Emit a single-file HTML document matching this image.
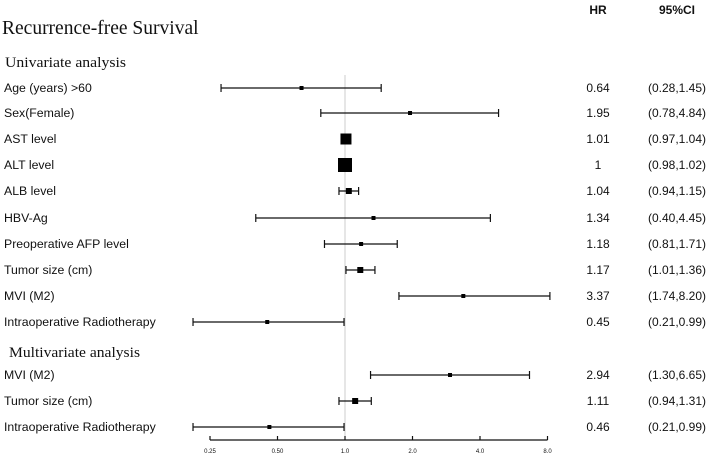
<!DOCTYPE html>
<html><head><meta charset="utf-8"><style>
body{margin:0;background:#fff}
svg{display:block}
text{font-family:"Liberation Sans",sans-serif;fill:#111}
.serif{font-family:"Liberation Serif",serif}
</style></head><body>
<svg id="chart" width="709" height="456" viewBox="0 0 709 456">
<text class="serif" x="2" y="34" font-size="19.5">Recurrence-free  Survival</text>
<text x="598" y="14" font-size="12" font-weight="bold" text-anchor="middle">HR</text>
<text x="677" y="14" font-size="12" font-weight="bold" text-anchor="middle">95%CI</text>
<text class="serif" x="5" y="67" font-size="15" textLength="121" lengthAdjust="spacingAndGlyphs">Univariate analysis</text>
<text class="serif" x="9" y="357" font-size="15" textLength="131" lengthAdjust="spacingAndGlyphs">Multivariate analysis</text>
<line x1="345" y1="75" x2="345" y2="436" stroke="#ccc" stroke-width="1"/>
<g id="rows"></g>
<g id="axis"></g>
</svg>
<script>
const labels=["Age (years) >60","Sex(Female)","AST level","ALT level","ALB level","HBV-Ag","Preoperative AFP level","Tumor size (cm)","MVI (M2)","Intraoperative Radiotherapy","MVI (M2)","Tumor size (cm)","Intraoperative Radiotherapy"];
const hr=[0.64,1.95,1.01,1,1.04,1.34,1.18,1.17,3.37,0.45,2.94,1.11,0.46];
const hrText=["0.64","1.95","1.01","1","1.04","1.34","1.18","1.17","3.37","0.45","2.94","1.11","0.46"];
const lower=[0.28,0.78,0.97,0.98,0.94,0.40,0.81,1.01,1.74,0.21,1.30,0.94,0.21];
const upper=[1.45,4.84,1.04,1.02,1.15,4.45,1.71,1.36,8.20,0.99,6.65,1.31,0.99];
const ciText=["(0.28,1.45)","(0.78,4.84)","(0.97,1.04)","(0.98,1.02)","(0.94,1.15)","(0.40,4.45)","(0.81,1.71)","(1.01,1.36)","(1.74,8.20)","(0.21,0.99)","(1.30,6.65)","(0.94,1.31)","(0.21,0.99)"];
const boxSize=[4,4,11,14,6,4,4,6,4,4,4,6,4];
const ticks=[0.25,0.5,1,2,4,8];
const tickLabels=["0.25","0.50","1.0","2.0","4.0","8.0"];
const rowY=[88,113,139,165,191,218,244,270,296,322,375,401,427];
const NS="http://www.w3.org/2000/svg";
const xs=v=>345+67.5*Math.log2(v);
function mk(t,a,p){const e=document.createElementNS(NS,t);for(const k in a)e.setAttribute(k,a[k]);p.appendChild(e);return e;}
const rows=document.getElementById('rows');
labels.forEach((l,i)=>{
 const y=rowY[i];
 const g=mk('g',{},rows);
 
 
 const t=mk('text',{x:4,y:y+4,'font-size':12.3},g);t.textContent=l;
 
 
 const a=xs(lower[i]),b=xs(upper[i]);
 const ln=mk('line',{x1:a,y1:y,x2:b,y2:y,stroke:'#111','stroke-width':1.2},g);
 
 
 [a,b].forEach(x=>{const c=mk('line',{x1:x,y1:y-4,x2:x,y2:y+4,stroke:'#111','stroke-width':1.2},g);
 
 });
 const s=boxSize[i];
 const r=mk('rect',{x:xs(hr[i])-s/2,y:y-s/2,width:s,height:s,fill:'#000'},g);
 
 
 const h=mk('text',{x:598,y:y+4,'font-size':12,'text-anchor':'middle'},g);h.textContent=hrText[i];
 
 
 const c=mk('text',{x:677,y:y+4,'font-size':12,'text-anchor':'middle'},g);c.textContent=ciText[i];
 
 
});
const ax=document.getElementById('axis');
const al=mk('line',{x1:xs(0.25),y1:440,x2:xs(8),y2:440,stroke:'#111','stroke-width':1.2},ax);


ticks.forEach((v,i)=>{
 const tk=mk('line',{x1:xs(v),y1:440,x2:xs(v),y2:436,stroke:'#111','stroke-width':1.2},ax);
 
 
 const t=mk('text',{x:xs(v),y:453,'font-size':6,'text-anchor':'middle',fill:'#444'},ax);t.textContent=tickLabels[i];
 
 
});
</script>
</body></html>
